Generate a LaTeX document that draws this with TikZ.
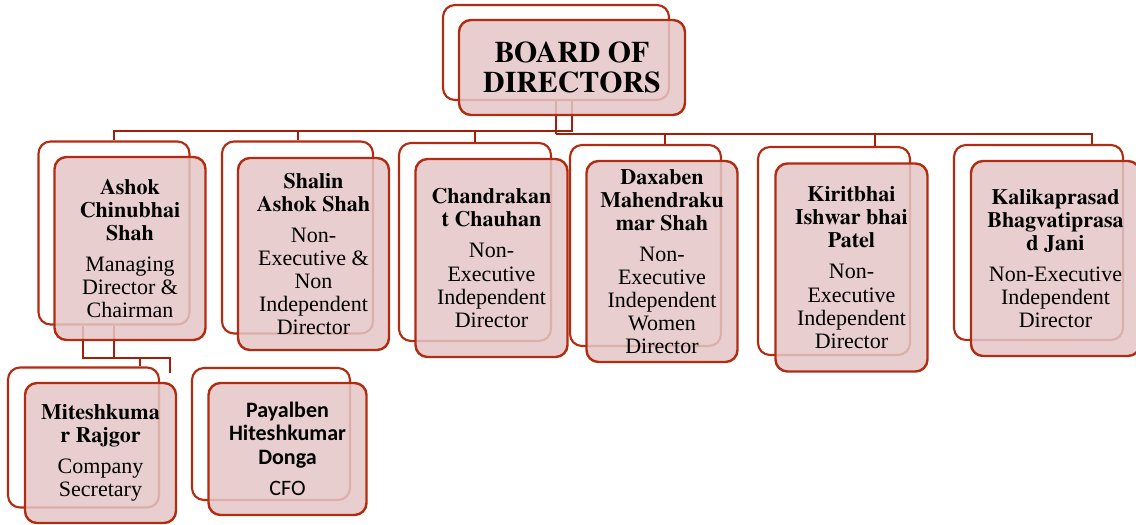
\documentclass[tikz,border=0pt]{standalone}
\usepackage{fontspec}
\setmainfont{Liberation Serif}
\newfontfamily\namefont{texgyretermes-bold.otf}
\newfontfamily\calibri{Carlito}
\newcommand{\nm}[1]{{\namefont #1}}
\usepackage{tikz}
\usepackage{xcolor}
\definecolor{linered}{RGB}{178,44,18}
\definecolor{busred}{RGB}{162,32,10}
\definecolor{boxpink}{RGB}{228,198,198}
\tikzstyle{back} = [rectangle, draw=linered, line width=1.6pt, rounded corners=9pt, fill=white, inner sep=0pt]
\tikzstyle{front} = [rectangle, draw=linered, line width=1.8pt, rounded corners=9pt, fill=boxpink, fill opacity=0.85, text opacity=1, align=center, inner sep=0pt, font=\fontsize{16.5}{17.3}\selectfont]
\tikzstyle{conn} = [draw=busred, line width=1.5pt]

\begin{document}
\begin{tikzpicture}[x={(0.75pt,0)},y={(0,-0.75pt)}]
  \useasboundingbox (0,0) rectangle (1136,525);

  % back layer
  \node[back, minimum width=169.5pt, minimum height=71.25pt] (bod0) at (556,52.5) {};
  \node[back, minimum width=113.25pt, minimum height=137.25pt] (ashok0) at (114,233) {};
  \node[back, minimum width=113.25pt, minimum height=144pt] (shalin0) at (297.5,237.5) {};
  \node[back, minimum width=114pt, minimum height=148.5pt] (chandrakant0) at (475,242) {};
  \node[back, minimum width=113.25pt, minimum height=150.75pt] (daxaben0) at (645.5,245.5) {};
  \node[back, minimum width=114pt, minimum height=156pt] (kiritbhai0) at (834,251) {};
  \node[back, minimum width=126.75pt, minimum height=146.25pt] (kalika0) at (1038.5,242.5) {};
  \node[back, minimum width=113.25pt, minimum height=105pt] (mitesh0) at (83.5,437.5) {};
  \node[back, minimum width=118.5pt, minimum height=99pt] (payal0) at (271,434) {};

  % connectors
  \coordinate (hubL) at (556,131);
  \coordinate (hubR) at (556,134);
  \coordinate (subbus) at (114,358);
  \coordinate (stub) at (170,373);
  \draw[conn] (bod0.south) -- (hubR);
  \draw[conn] ([xshift=12pt]bod0.south) |- (hubL);
  \foreach \n in {ashok0,shalin0,chandrakant0}
    \draw[conn] (hubL) -| (\n.north);
  \draw[conn] (hubR) -| ([xshift=14.6pt]daxaben0.north);
  \draw[conn] (hubR) -| ([xshift=30.8pt]kiritbhai0.north);
  \draw[conn] (hubR) -| ([xshift=40pt]kalika0.north);
  \draw[conn] (ashok0.south) -- (subbus);
  \draw[conn] ([xshift=-23pt]ashok0.south) |- (subbus);
  \draw[conn] (subbus) -| ([xshift=42.4pt]mitesh0.north);
  \draw[conn] (subbus) -| (stub);

  % front layer
  \node[front, minimum width=169.5pt, minimum height=71.25pt, font=\namefont\fontsize{22.4}{22.5}\selectfont] (bod) at (572,67.5) {BOARD OF\\DIRECTORS};
  \node[front, minimum width=113.25pt, minimum height=137.25pt] (ashok) at (130,248.5)
    {\nm{Ashok}\\\nm{Chinubhai}\\\nm{Shah}\\[6pt]Managing\\Director \&\\Chairman};
  \node[front, minimum width=113.25pt, minimum height=144pt] (shalin) at (313.5,254)
    {\nm{Shalin}\\\nm{Ashok Shah}\\[6pt]Non-\\Executive \&\\Non\\Independent\\Director};
  \node[front, minimum width=114pt, minimum height=148.5pt] (chandrakant) at (491.5,258)
    {\nm{Chandrakan}\\\nm{t Chauhan}\\[6pt]Non-\\Executive\\Independent\\Director};
  \node[front, minimum width=113.25pt, minimum height=150.75pt] (daxaben) at (662,261.5)
    {\nm{Daxaben}\\\nm{Mahendraku}\\\nm{mar Shah}\\[6pt]Non-\\Executive\\Independent\\Women\\Director};
  \node[front, minimum width=114pt, minimum height=156pt] (kiritbhai) at (851.5,267.5)
    {\nm{Kiritbhai}\\\nm{Ishwar bhai}\\\nm{Patel}\\[6pt]Non-\\Executive\\Independent\\Director};
  \node[front, minimum width=126.75pt, minimum height=146.25pt] (kalika) at (1055.5,258.5)
    {\nm{Kalikaprasad}\\\nm{Bhagvatiprasa}\\\nm{d Jani}\\[6pt]Non-Executive\\Independent\\Director};
  \node[front, minimum width=113.25pt, minimum height=105pt] (mitesh) at (100.5,453)
    {\nm{Miteshkuma}\\\nm{r Rajgor}\\[6pt]Company\\Secretary};
  \node[front, minimum width=118.5pt, minimum height=99pt, font=\calibri\fontsize{16.5}{17.6}\selectfont] (payal) at (287.5,449)
    {\textbf{Payalben}\\\textbf{Hiteshkumar}\\\textbf{Donga}\\[6pt]CFO};
\end{tikzpicture}
\end{document}
